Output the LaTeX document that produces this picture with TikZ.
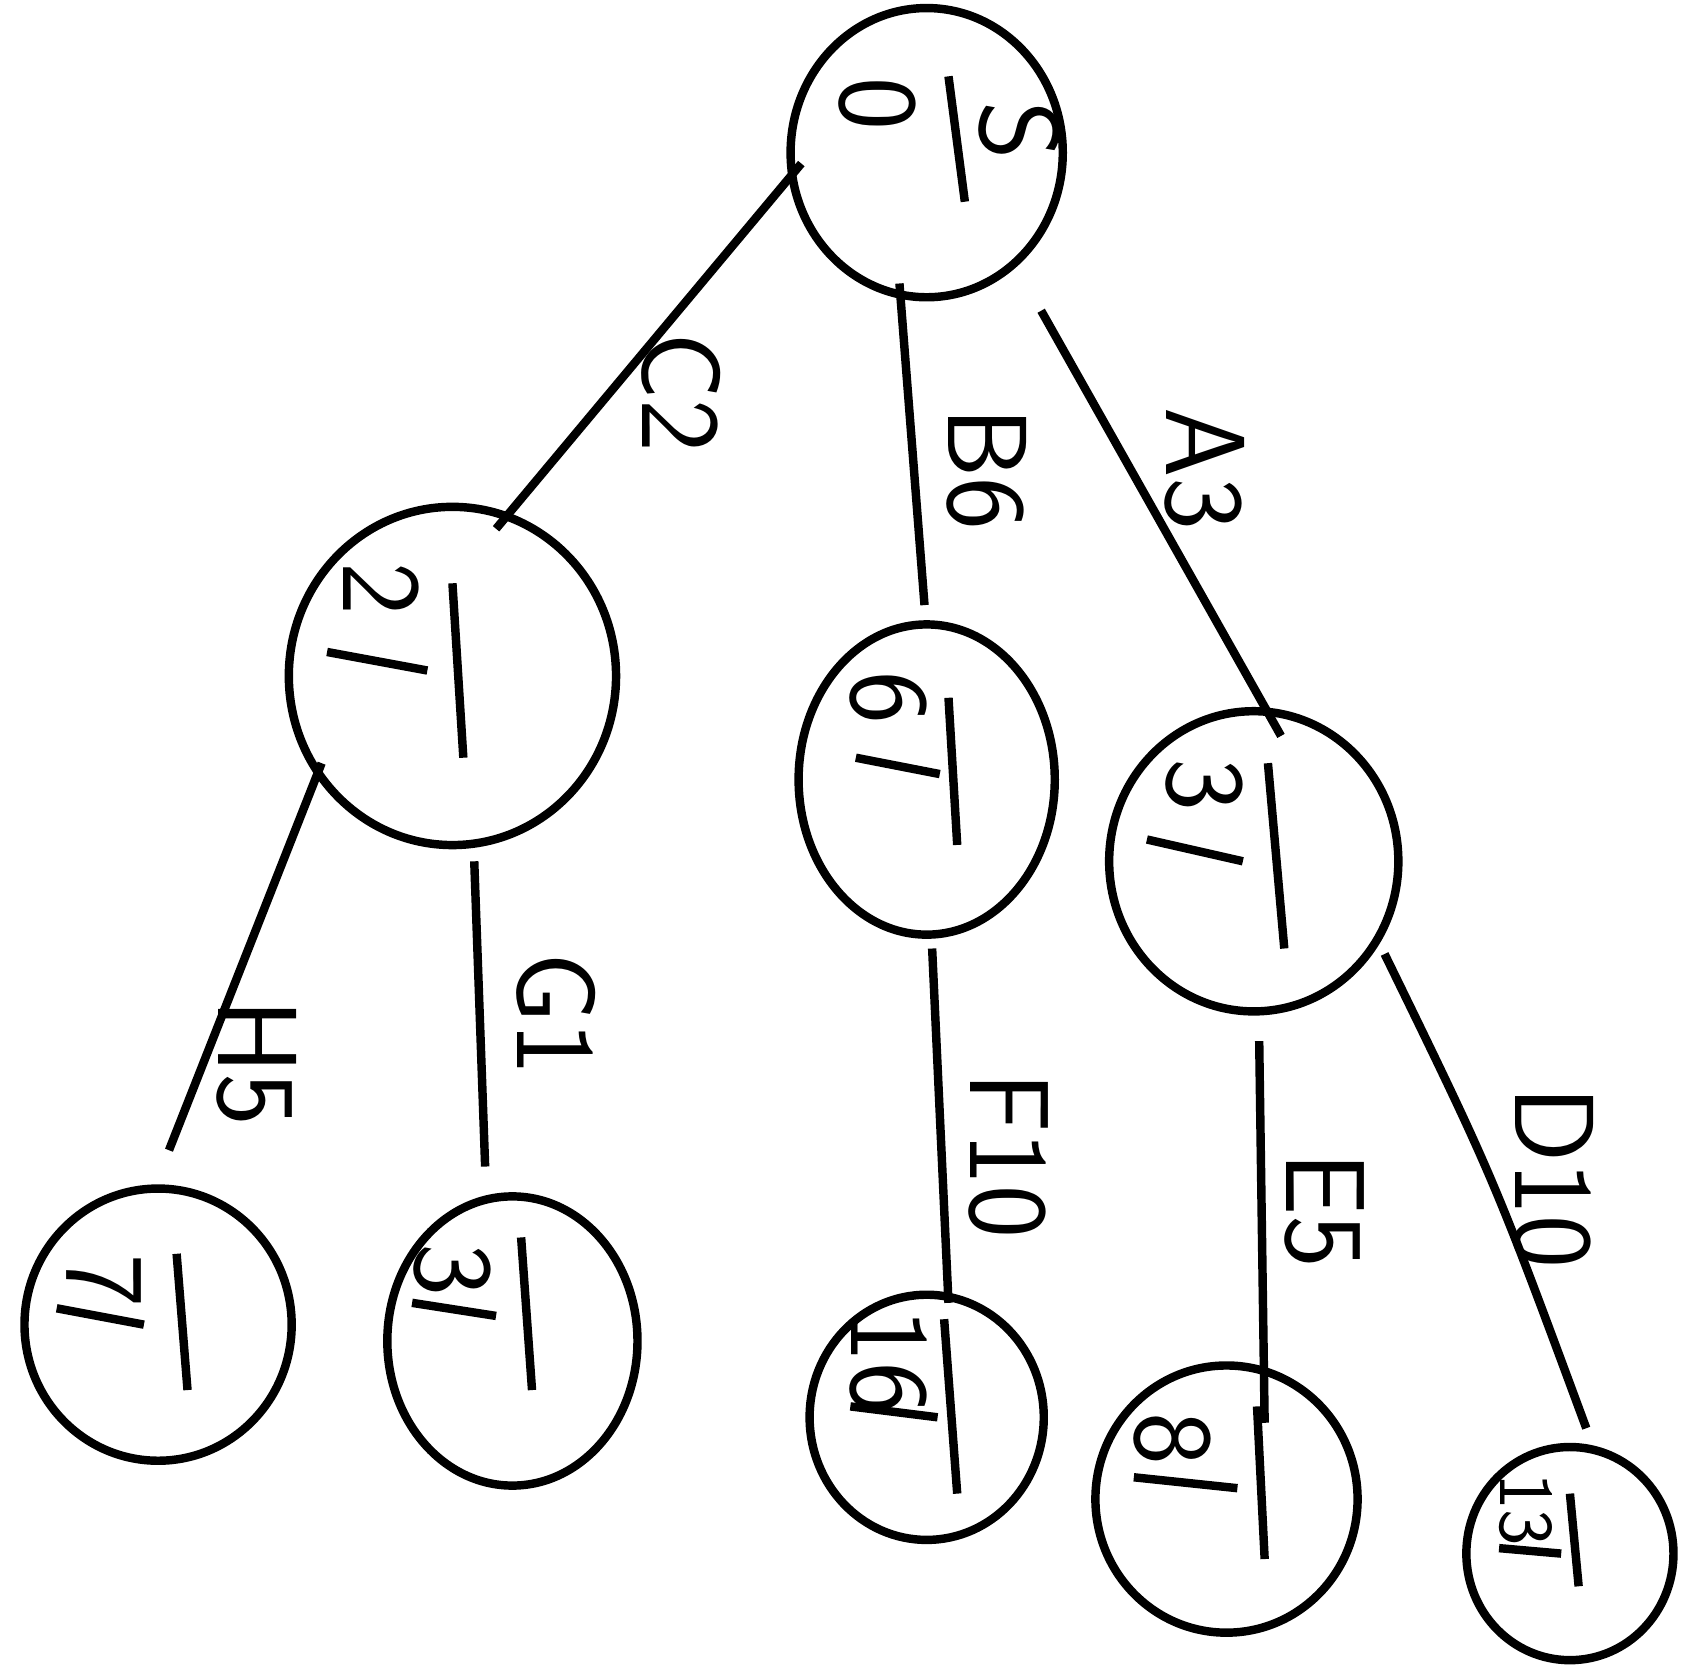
\documentclass[tikz,border=0pt]{standalone}
\usetikzlibrary{shapes.geometric}
\begin{document}
\begin{tikzpicture}[x=0.0109cm,y=-0.0109cm,line width=2.4pt,
 nd/.style={draw,ellipse,line width=2.4pt,inner sep=0pt},
 lab/.style={rotate=-90,font=\sffamily\fontsize{32}{32}\selectfont,inner sep=0pt}]
\useasboundingbox (0,0) rectangle (1563,1535);
% nodes
\node[nd,minimum width=2.72cm,minimum height=2.89cm] (r) at (850,140) {};
\node[nd,minimum width=3.27cm,minimum height=3.38cm] (c) at (415,620) {};
\node[nd,minimum width=2.56cm,minimum height=3.1cm] (b) at (850,715) {};
\node[nd,minimum width=2.89cm,minimum height=3.0cm] (a) at (1150,790) {};
\node[nd,minimum width=2.67cm,minimum height=2.72cm] (h) at (145,1215) {};
\node[nd,minimum width=2.5cm,minimum height=2.89cm] (g) at (470,1230) {};
\node[nd,minimum width=2.34cm,minimum height=2.45cm] (f) at (850,1300) {};
\node[nd,minimum width=2.62cm,minimum height=2.67cm] (e) at (1125,1375) {};
\node[nd,minimum width=2.07cm,minimum height=2.13cm] (d) at (1440,1425) {};
% node texts
\node[lab] (rS) at (935,120) {S};
\node[lab] (r0) at (805,95) {0};
\draw (870,70) -- (885,185);
\node[lab] (c2) at (350,540) {2};
\draw (300,598) -- (392,615); \draw (415,535) -- (425,695);
\node[lab] (b6) at (815,640) {6};
\draw (785,695) -- (862,710); \draw (870,640) -- (878,775);
\node[lab] (a3) at (1105,720) {3};
\draw (1052,770) -- (1140,790); \draw (1163,700) -- (1178,870);
\node[lab] (h7) at (95,1175) {7};
\draw (52,1200) -- (132,1215); \draw (162,1150) -- (172,1275);
\node[lab] (g3) at (415,1165) {3};
\draw (378,1195) -- (455,1207); \draw (478,1135) -- (488,1275);
\node[lab] (f16) at (815,1250) {16};
\draw (780,1290) -- (860,1300); \draw (866,1210) -- (878,1370);
\node[lab] (e8) at (1075,1320) {8};
\draw (1040,1355) -- (1135,1365); \draw (1153,1290) -- (1160,1430);
\node[lab,font=\sffamily\fontsize{22}{22}\selectfont] (d13) at (1400,1385) {13};
\draw (1375,1420) -- (1432,1425); \draw (1440,1370) -- (1448,1455);
% edges
\coordinate (r1) at (735,150); \coordinate (c1) at (455,485);
\coordinate (r2) at (825,260); \coordinate (b1) at (848,555);
\coordinate (r3) at (955,285); \coordinate (a1) at (1175,675);
\coordinate (c3) at (295,700); \coordinate (h1) at (155,1055);
\coordinate (c4) at (435,790); \coordinate (g1) at (445,1070);
\coordinate (b2) at (855,870); \coordinate (f1) at (870,1195);
\coordinate (a2) at (1155,955); \coordinate (e1) at (1160,1305);
\coordinate (a4) at (1270,875); \coordinate (d1) at (1455,1310);
\draw (r1) -- (c1); \draw (r2) -- (b1); \draw (r3) -- (a1);
\draw (c3) -- (h1); \draw (c4) -- (g1); \draw (b2) -- (f1);
\draw (a2) -- (e1); \draw (a4) .. controls (1370,1080) .. (d1);
% edge labels
\node[lab] (lC2) at (625,360) {C2};
\node[lab] (lB6) at (905,430) {B6};
\node[lab] (lA3) at (1105,430) {A3};
\node[lab] (lH5) at (235,975) {H5};
\node[lab] (lG1) at (510,930) {G1};
\node[lab] (lF10) at (925,1060) {F10};
\node[lab] (lE5) at (1215,1110) {E5};
\node[lab] (lD10) at (1425,1080) {D10};
\end{tikzpicture}
\end{document}
